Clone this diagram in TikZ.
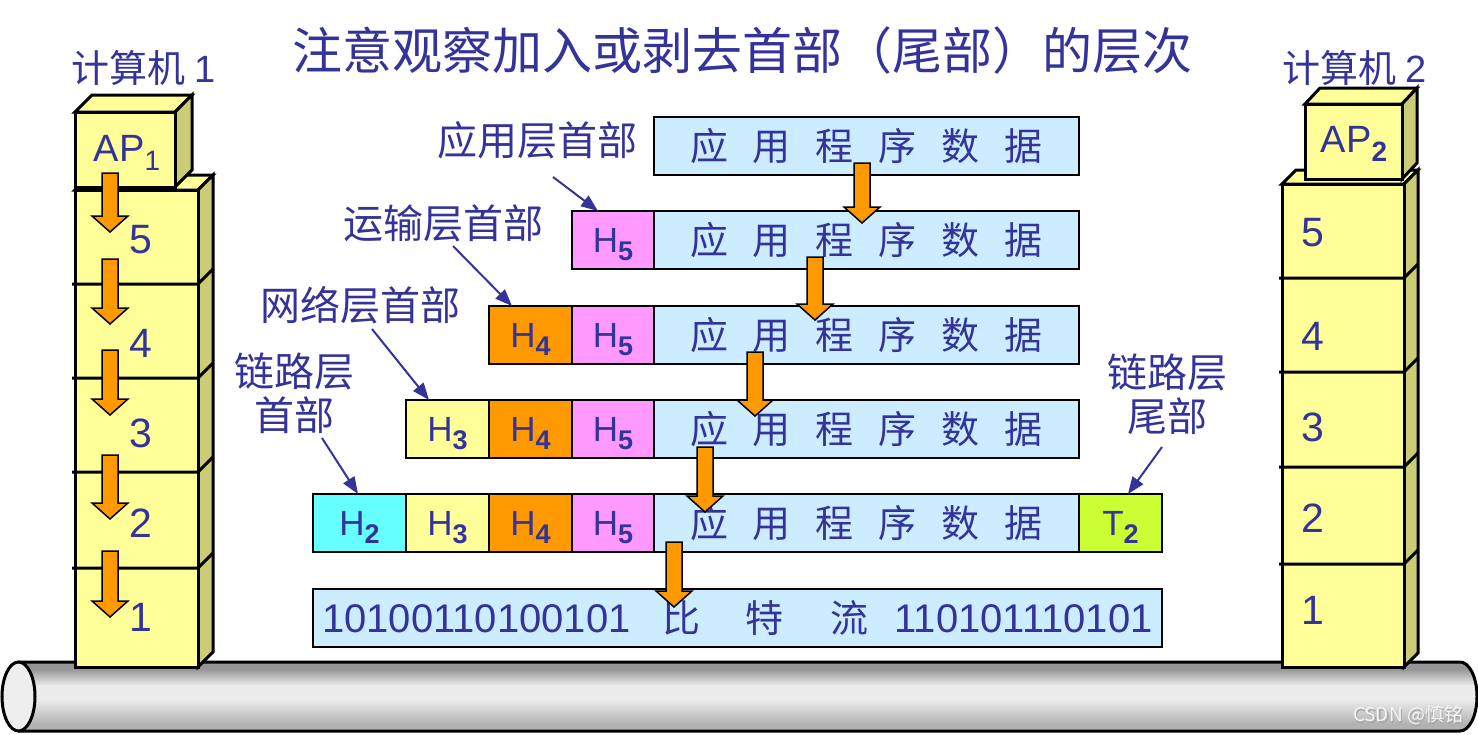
\documentclass[tikz,border=0pt]{standalone}
\usepackage{fontspec}
\setmainfont{Liberation Sans}
\newfontfamily\cjk{Noto Sans CJK SC}
\usetikzlibrary{arrows.meta}
\definecolor{txt}{RGB}{51,51,153}
\definecolor{yel}{RGB}{255,255,153}
\definecolor{side}{RGB}{204,204,119}
\definecolor{datab}{RGB}{204,236,255}
\definecolor{pinkh}{RGB}{255,153,255}
\definecolor{orah}{RGB}{255,153,0}
\definecolor{cyanh}{RGB}{102,255,255}
\definecolor{limet}{RGB}{204,255,51}
\definecolor{pipeT}{RGB}{178,178,178}
\definecolor{pipeM}{RGB}{236,236,236}
\definecolor{pipeB}{RGB}{150,150,150}
\definecolor{pipeE}{RGB}{238,238,238}
\pgfdeclareverticalshading{pipeshade}{100bp}{color(0bp)=(pipeT); color(30bp)=(pipeT); color(48bp)=(pipeM); color(58bp)=(pipeM); color(70bp)=(pipeB); color(100bp)=(pipeB)}
\newcommand\fs[1]{\fontsize{#1}{#1}\selectfont}
\newcommand\Hs[1]{H\smash{\raisebox{-8pt}{\fs{27}\bfseries #1}}}
\newcommand\Ts[1]{T\smash{\raisebox{-8pt}{\fs{27}\bfseries #1}}}
\newcommand\dtext{{\cjk\fs{38}应\hspace{25pt}用\hspace{25pt}程\hspace{25pt}序\hspace{25pt}数\hspace{25pt}据}}
\newcommand\oarrow[3]{\filldraw[oarr] ({#1-8},#2) -- ({#1+8},#2) -- ({#1+8},{#3-16}) -- ({#1+18},{#3-16}) -- (#1,#3) -- ({#1-18},{#3-16}) -- ({#1-8},{#3-16}) -- cycle;}
\tikzset{
  cell/.style={draw=black, line width=2.5pt, minimum height=58pt, inner sep=0pt, outer sep=0pt, anchor=north west, font=\fs{35}, text=txt},
  face/.style={fill=yel, draw=black, line width=3pt, line join=miter},
  sideface/.style={fill=side, draw=black, line width=3pt, line join=miter},
  edge/.style={draw=black, line width=3pt},
  oarr/.style={fill=orah, draw=black, line width=1.5pt, line join=miter},
  lbl/.style={font=\cjk\fs{40}, text=txt, inner sep=0pt},
  lbltwo/.style={font=\cjk\fontsize{40}{44}\selectfont, text=txt, inner sep=0pt, align=center},
  num/.style={font=\fs{41}, text=txt, inner sep=0pt},
  lblarr/.style={draw=txt, line width=2pt, -{Triangle[length=17pt,width=13pt]}}
}
\begin{document}
\begin{tikzpicture}[x=1pt,y=-1pt]
\useasboundingbox (0,0) rectangle (1478,734);
% pipe
\shade[shading=pipeshade]
  (18,662) -- (1460,662) .. controls (1469.4,662) and (1477,677.5) .. (1477,696.5)
  .. controls (1477,715.5) and (1469.4,731) .. (1460,731) -- (18,731) -- cycle;
\draw[line width=3pt] (18,662) -- (1460,662) .. controls (1469.4,662) and (1477,677.5) .. (1477,696.5)
  .. controls (1477,715.5) and (1469.4,731) .. (1460,731) -- (18,731);
\filldraw[fill=pipeE, draw=black, line width=3pt] (18.5,696.5) ellipse [x radius=16.5, y radius=34.5];
\node[font=\cjk\fs{19}, text=gray!70] at (1409.8,716.8) {CSDN @慎铭};
\node[font=\cjk\fs{19}, text=white!92!gray] (wm) at (1408,715) {CSDN @慎铭};

% left stack
\filldraw[face] (75,190) -- (90,175) -- (213,175) -- (198,190) -- cycle;
\filldraw[sideface] (198,190) -- (213,175) -- (213,652) -- (198,667) -- cycle;
\filldraw[face] (75,190) rectangle (198,667);
\foreach \y in {284,378,472,568} {\draw[edge] (72,\y) -- (198,\y) -- (213,{\y-15});}
\filldraw[face] (75,112) -- (92,95) -- (192,95) -- (175,112) -- cycle;
\filldraw[sideface] (175,112) -- (192,95) -- (192,170) -- (175,187) -- cycle;
\filldraw[face] (75,112) rectangle (175,187);
\node[font=\fs{38}, text=txt, inner sep=0pt] (ap1) at (127,148) {AP\smash{\raisebox{-9pt}{\fs{28}1}}};
\node[num] (l5) at (141,240) {5};
\node[num] (l4) at (141,343) {4};
\node[num] (l3) at (141,433) {3};
\node[num] (l2) at (141,523) {2};
\node[num] (l1) at (141,617) {1};
\oarrow{110}{173}{232}
\oarrow{110}{259}{324}
\oarrow{110}{350}{415}
\oarrow{110}{455}{519}
\oarrow{110}{551}{617}

% right stack
\filldraw[face] (1282,184) -- (1296,170) -- (1418,170) -- (1404,184) -- cycle;
\filldraw[sideface] (1404,184) -- (1418,170) -- (1418,653) -- (1404,667) -- cycle;
\filldraw[face] (1282,184) rectangle (1404,667);
\foreach \y in {278,372,467,564} {\draw[edge] (1279,\y) -- (1404,\y) -- (1418,{\y-14});}
\filldraw[face] (1305,104) -- (1320,88) -- (1417,88) -- (1402,104) -- cycle;
\filldraw[sideface] (1402,104) -- (1417,88) -- (1417,163) -- (1402,179) -- cycle;
\filldraw[face] (1305,104) rectangle (1402,179);
\node[font=\fs{38}, text=txt, inner sep=0pt] (ap2) at (1354,139) {AP\smash{\raisebox{-9pt}{\fs{28}\bfseries 2}}};
\node[num] (r5) at (1313,233) {5};
\node[num] (r4) at (1313,336) {4};
\node[num] (r3) at (1313,427) {3};
\node[num] (r2) at (1313,518) {2};
\node[num] (r1) at (1313,610) {1};

% titles
\node[font=\cjk\fs{50}, text=txt] (title) at (742,50) {注意观察加入或剥去首部（尾部）的层次};
\node[font=\cjk\fs{38}, text=txt, inner sep=0pt] (pc1) at (144,68) {计算机\hspace{9pt}{\rmfamily 1}};
\node[font=\cjk\fs{38}, text=txt, inner sep=0pt] (pc2) at (1355,68) {计算机\hspace{9pt}{\rmfamily 2}};

% rows
\node[cell, fill=datab, minimum width=425pt] (d1) at (654,117) {\dtext};
\node[cell, fill=pinkh, minimum width=82pt] (r2h5) at (572,211) {\Hs{5}};
\node[cell, fill=datab, minimum width=425pt] (d2) at (654,211) {\dtext};
\node[cell, fill=orah, minimum width=83pt] (r3h4) at (489,306) {\Hs{4}};
\node[cell, fill=pinkh, minimum width=82pt] (r3h5) at (572,306) {\Hs{5}};
\node[cell, fill=datab, minimum width=425pt] (d3) at (654,306) {\dtext};
\node[cell, fill=yel, minimum width=83pt] (r4h3) at (406,400) {\Hs{3}};
\node[cell, fill=orah, minimum width=83pt] (r4h4) at (489,400) {\Hs{4}};
\node[cell, fill=pinkh, minimum width=82pt] (r4h5) at (572,400) {\Hs{5}};
\node[cell, fill=datab, minimum width=425pt] (d4) at (654,400) {\dtext};
\node[cell, fill=cyanh, minimum width=93pt] (r5h2) at (313,494) {\Hs{2}};
\node[cell, fill=yel, minimum width=83pt] (r5h3) at (406,494) {\Hs{3}};
\node[cell, fill=orah, minimum width=83pt] (r5h4) at (489,494) {\Hs{4}};
\node[cell, fill=pinkh, minimum width=82pt] (r5h5) at (572,494) {\Hs{5}};
\node[cell, fill=datab, minimum width=425pt] (d5) at (654,494) {\dtext};
\node[cell, fill=limet, minimum width=83pt] (t2) at (1079,494) {\Ts{2}};
\node[cell, fill=datab, minimum width=849pt, font=\fs{40}] (bits) at (313,589)
  {10100110100101\hspace{32pt}{\cjk\fs{38}比\hspace{45pt}特\hspace{47pt}流}\hspace{26pt}110101110101};

% middle arrows
\oarrow{862}{163}{223}
\oarrow{815}{257}{320}
\oarrow{755}{352}{416}
\oarrow{705}{447}{512}
\oarrow{674}{542}{607}

% labels
\node[lbl] (lapp) at (537,140) {应用层首部};
\node[lbl] (ltra) at (443,223) {运输层首部};
\node[lbl] (lnet) at (360,305) {网络层首部};
\node[lbltwo] (llnk) at (294,393) {链路层\\首部};
\node[lbltwo] (ltail) at (1167,394) {链路层\\尾部};
\coordinate (c1) at (553,177);
\coordinate (c2) at (453,246);
\coordinate (c3) at (372,329);
\coordinate (c4) at (322,438);
\coordinate (c5) at (1162,447);
\draw[lblarr] (c1) -- ([xshift=26pt]r2h5.north west);
\draw[lblarr] (c2) -- ([xshift=23pt]r3h4.north west);
\draw[lblarr] (c3) -- ([xshift=23pt]r4h3.north west);
\draw[lblarr] (c4) -- ([xshift=45pt]r5h2.north west);
\draw[lblarr] (c5) -- ([xshift=49pt]t2.north west);
\end{tikzpicture}
\end{document}
